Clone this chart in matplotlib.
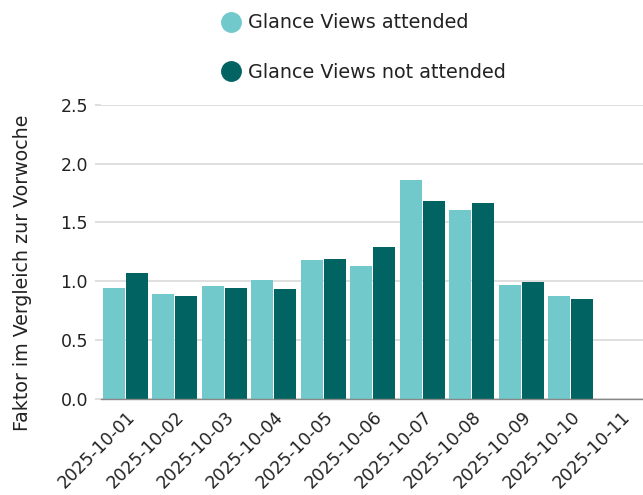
import matplotlib
matplotlib.use("Agg")
import matplotlib.pyplot as plt
from matplotlib.lines import Line2D
import matplotlib.transforms as mtransforms
import numpy as np

plt.rcParams['font.family'] = ['DejaVu Sans']

dates = ["2025-10-01", "2025-10-02", "2025-10-03", "2025-10-04", "2025-10-05",
         "2025-10-06", "2025-10-07", "2025-10-08", "2025-10-09", "2025-10-10",
         "2025-10-11"]
attended = [0.94, 0.89, 0.96, 1.01, 1.18, 1.13, 1.86, 1.61, 0.97, 0.87, np.nan]
not_attended = [1.07, 0.87, 0.94, 0.93, 1.19, 1.29, 1.68, 1.67, 0.99, 0.85, np.nan]
series_labels = ["Glance Views attended", "Glance Views not attended"]
y_label = "Faktor im Vergleich zur Vorwoche"

light = "#72C9CC"
dark = "#026462"
text_col = "#222222"

W, H = 643, 495
fig = plt.figure(figsize=(W / 100, H / 100), dpi=100)
ax = fig.add_axes([100.5 / W, 1 - 398.7 / H, 544.5 / W, 293.7 / H])

x = np.arange(len(dates))
bw = 0.438
off = 0.231
ax.bar(x - off, attended, width=bw, color=light, edgecolor="none", zorder=3)
ax.bar(x + off, not_attended, width=bw, color=dark, edgecolor="none", zorder=3)

ax.set_xlim(-0.5, len(dates) - 0.5)
ax.set_ylim(0, 2.5)
ax.set_yticks([0, 0.5, 1.0, 1.5, 2.0, 2.5])
ax.set_yticklabels([f"{v:.1f}" for v in [0, 0.5, 1.0, 1.5, 2.0, 2.5]])
ax.yaxis.grid(True, color="#d9d9d9", linewidth=1.2, zorder=0)
ax.set_axisbelow(True)

for s in ["top", "right", "left"]:
    ax.spines[s].set_visible(False)
ax.spines["bottom"].set_color("#888888")
ax.spines["bottom"].set_linewidth(1.0)
ax.spines["bottom"].set_zorder(4)

ax.tick_params(axis="y", length=4, color="#d9d9d9", width=1.2, pad=5,
               labelsize=12.5, labelcolor=text_col)
ax.tick_params(axis="x", length=0, pad=6, labelsize=12.5, labelcolor=text_col)

ax.set_xticks(x)
ax.set_xticklabels(dates, rotation=45, ha="right", va="center",
                   rotation_mode="anchor")
shift = mtransforms.ScaledTranslation(7 / 100, -7 / 100, fig.dpi_scale_trans)
for lbl in ax.get_xticklabels():
    lbl.set_transform(lbl.get_transform() + shift)

ax.set_ylabel(y_label, fontsize=13.7, color=text_col)
ax.yaxis.set_label_coords(-0.125, 0.43)

handles = [Line2D([], [], marker="o", linestyle="none", markersize=14,
                  markerfacecolor=c, markeredgecolor=c) for c in (light, dark)]
fig.legend(handles, series_labels, loc="upper left",
           bbox_to_anchor=(204 / W, 1 + 4 / H), frameon=False,
           fontsize=13.8, labelspacing=1.6, handletextpad=0.4,
           handlelength=1.0, labelcolor=text_col)

fig.savefig("out.png", dpi=100)
